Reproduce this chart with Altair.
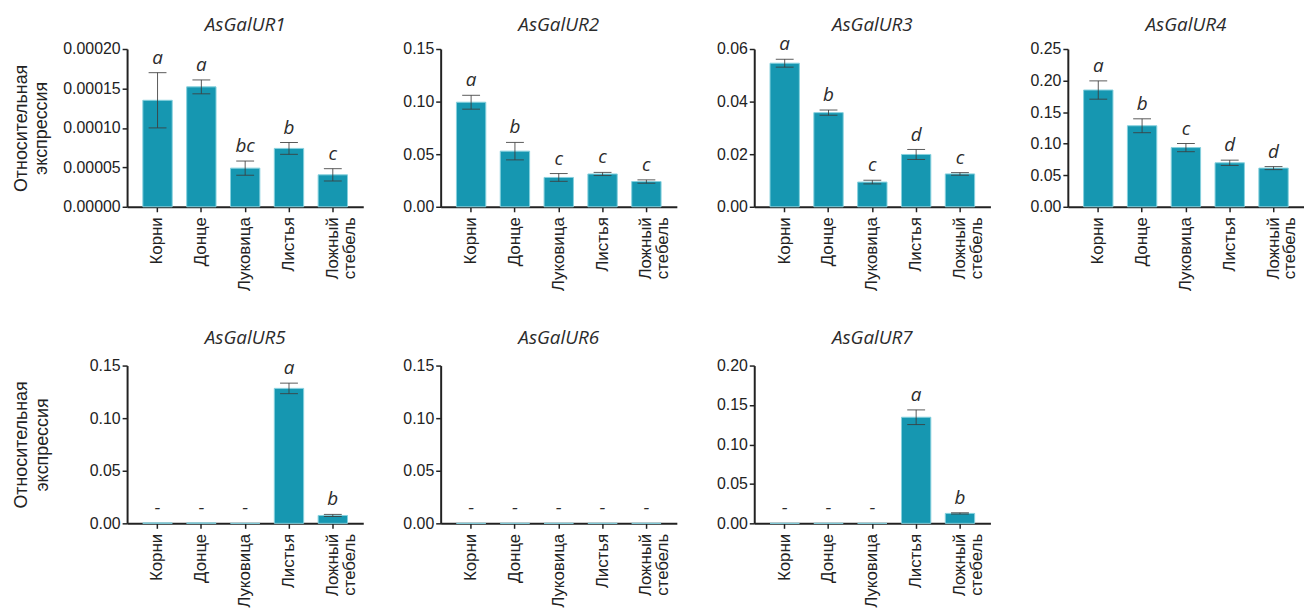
import altair as alt
import pandas as pd

categories = ["Корни", "Донце", "Луковица", "Листья", "Ложный стебель"]
genes = ["AsGalUR1", "AsGalUR2", "AsGalUR3", "AsGalUR4", "AsGalUR5", "AsGalUR6", "AsGalUR7"]

ur1_mean = [0.000135, 0.000152, 0.000049, 0.000074, 0.0000405]
ur1_err = [0.000035, 0.0000088, 0.0000090, 0.0000075, 0.0000078]
ur1_let = ["a", "a", "bc", "b", "c"]

ur2_mean = [0.0994, 0.0529, 0.0279, 0.0312, 0.0240]
ur2_err = [0.0066, 0.0083, 0.0037, 0.0015, 0.0016]
ur2_let = ["a", "b", "c", "c", "c"]

ur3_mean = [0.0546, 0.0358, 0.0094, 0.0199, 0.0125]
ur3_err = [0.0015, 0.0010, 0.0007, 0.0019, 0.0005]
ur3_let = ["a", "b", "c", "d", "c"]

ur4_mean = [0.185, 0.1284, 0.0938, 0.0697, 0.0613]
ur4_err = [0.0145, 0.0110, 0.0065, 0.0042, 0.0024]
ur4_let = ["a", "b", "c", "d", "d"]

ur5_mean = [0.0004, 0.0004, 0.0, 0.1283, 0.0075]
ur5_err = [0.0, 0.0, 0.0, 0.0050, 0.0010]
ur5_let = ["-", "-", "-", "a", "b"]

ur6_mean = [0.0, 0.0, 0.0, 0.0, 0.0]
ur6_err = [0.0, 0.0, 0.0, 0.0, 0.0]
ur6_let = ["-", "-", "-", "-", "-"]

ur7_mean = [0.0, 0.0, 0.0, 0.1345, 0.0126]
ur7_err = [0.0, 0.0, 0.0, 0.0093, 0.0008]
ur7_let = ["-", "-", "-", "a", "b"]

ticks1 = [0, 0.00005, 0.0001, 0.00015, 0.0002]
ticks2 = [0, 0.05, 0.10, 0.15]
ticks3 = [0, 0.02, 0.04, 0.06]
ticks4 = [0, 0.05, 0.10, 0.15, 0.20, 0.25]
ticks5 = [0, 0.05, 0.10, 0.15]
ticks6 = [0, 0.05, 0.10, 0.15]
ticks7 = [0, 0.05, 0.10, 0.15, 0.20]

y_title = ["Относительная", "экспрессия"]

BAR = "#1697b1"
EDGE = "#86d1de"
INK = "#222222"
ERR = "#3d3d3d"
W = 238
H = 159


def panel(gene, means, errs, letters, ticks, fmt, show_title, title_pad, head_gap):
    df = pd.DataFrame({
        "category": categories,
        "mean": means,
        "lo": [m - e for m, e in zip(means, errs)],
        "hi": [m + e for m, e in zip(means, errs)],
        "err": errs,
        "letter": letters,
    })
    xenc = alt.X(
        "category:N",
        sort=categories,
        scale=alt.Scale(paddingInner=0.33, paddingOuter=0.36),
        axis=alt.Axis(
            title=None,
            labelAngle=-90,
            labelFont="Liberation Sans",
            labelFontSize=17,
            labelColor=INK,
            labelExpr="split(datum.label, ' ')",
            labelLineHeight=17,
            labelPadding=5,
            domainColor=INK,
            domainWidth=2,
            tickColor=INK,
            tickWidth=1.5,
            tickSize=5,
        ),
    )
    yscale = alt.Scale(domain=[0, ticks[-1]], nice=False)
    yaxis = alt.Axis(
        values=ticks,
        format=fmt,
        grid=False,
        labelFont="Liberation Sans",
        labelFontSize=16,
        labelColor=INK,
        labelPadding=2,
        domainColor=INK,
        domainWidth=2,
        tickColor=INK,
        tickWidth=1.5,
        tickSize=5,
        title=y_title if show_title else None,
        titleFont="Liberation Sans",
        titleFontSize=18,
        titleFontWeight="normal",
        titleColor=INK,
        titleLineHeight=21,
        titlePadding=title_pad,
    )
    base = alt.Chart(df).encode(x=xenc)
    bars = base.mark_bar(color=BAR, stroke=EDGE, strokeWidth=1).encode(
        y=alt.Y("mean:Q", scale=yscale, axis=yaxis)
    )
    eb = base.transform_filter("datum.err > 0")
    rule = eb.mark_rule(color=ERR, strokeWidth=1, opacity=0.85).encode(
        y=alt.Y("lo:Q", scale=yscale, axis=yaxis), y2="hi:Q"
    )
    cap_hi = eb.mark_tick(color=ERR, size=18, thickness=1, opacity=0.85).encode(
        y=alt.Y("hi:Q", scale=yscale, axis=yaxis)
    )
    cap_lo = eb.mark_tick(color=ERR, size=18, thickness=1, opacity=0.85).encode(
        y=alt.Y("lo:Q", scale=yscale, axis=yaxis)
    )
    txt = base.mark_text(
        font="Open Sans", fontStyle="italic", fontSize=19, color="#2b2b2b",
        baseline="alphabetic", dy=-9,
    ).encode(y=alt.Y("hi:Q", scale=yscale, axis=yaxis), text="letter:N")
    head = alt.Chart(pd.DataFrame({"gene": [gene]})).mark_text(
        font="Open Sans", fontStyle="italic", fontSize=19, color="#2b2b2b",
        baseline="alphabetic", align="center",
    ).encode(text="gene:N", x=alt.value(W / 2), y=alt.value(-head_gap))
    return alt.layer(bars, rule, cap_hi, cap_lo, txt, head).properties(
        width=W, height=H,
    )


p1 = panel(genes[0], ur1_mean, ur1_err, ur1_let, ticks1, ".5f", True, 12, 18)
p2 = panel(genes[1], ur2_mean, ur2_err, ur2_let, ticks2, ".2f", False, 0, 18)
p3 = panel(genes[2], ur3_mean, ur3_err, ur3_let, ticks3, ".2f", False, 0, 18)
p4 = panel(genes[3], ur4_mean, ur4_err, ur4_let, ticks4, ".2f", False, 0, 18)
p5 = panel(genes[4], ur5_mean, ur5_err, ur5_let, ticks5, ".2f", True, 38, 22)
p6 = panel(genes[5], ur6_mean, ur6_err, ur6_let, ticks6, ".2f", False, 0, 22)
p7 = panel(genes[6], ur7_mean, ur7_err, ur7_let, ticks7, ".2f", False, 0, 22)

chart = alt.concat(
    p1, p2, p3, p4, p5, p6, p7,
    columns=4,
    spacing=alt.RowColnumber(row=160, column=78),
    bounds="flush",
).properties(
    padding={"left": 4, "top": 6, "right": 0, "bottom": 0},
).configure_view(stroke=None)

chart.save("out.html", embed_options={"renderer": "svg", "actions": False})
